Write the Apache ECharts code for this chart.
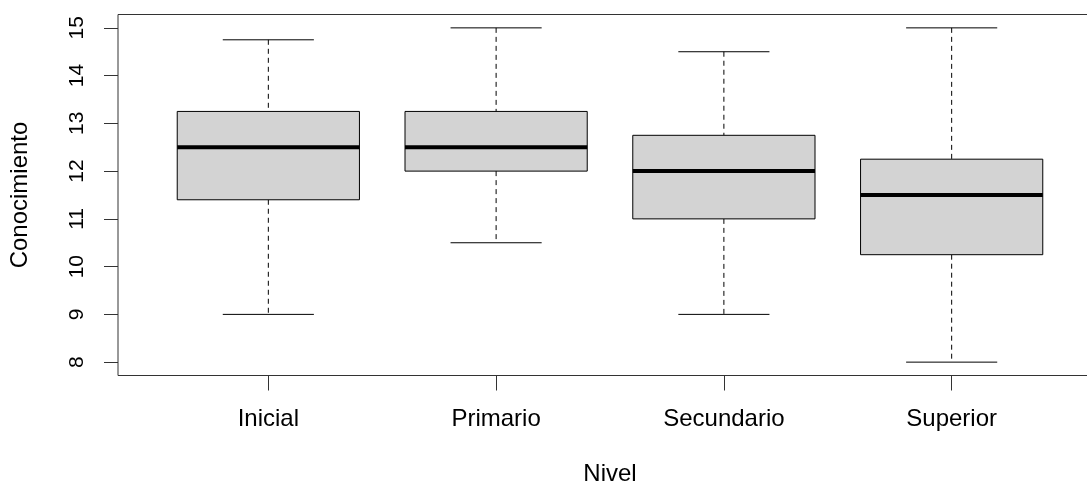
<!DOCTYPE html>
<html><head><meta charset="utf-8">
<script src="https://cdn.jsdelivr.net/npm/echarts@6/dist/echarts.min.js"></script>
<style>html,body{margin:0;padding:0;background:#fff}#c{width:1087px;height:486px}</style>
</head><body><div id="c"></div>
<script>
const categories = ['Inicial', 'Primario', 'Secundario', 'Superior'];
const whiskerLow = [9, 10.5, 9, 8];
const q1 = [11.4, 12, 11, 10.25];
const median = [12.5, 12.5, 12, 11.5];
const q3 = [13.25, 13.25, 12.75, 12.25];
const whiskerHigh = [14.75, 15, 14.5, 15];
const yTicks = [8, 9, 10, 11, 12, 13, 14, 15];
const xTitle = 'Nivel';
const yTitle = 'Conocimiento';

const boxData = categories.map((c, i) => [i + 1, whiskerLow[i], q1[i], median[i], q3[i], whiskerHigh[i]]);
const FONT = '"Liberation Sans", Arial, sans-serif';
const chart = echarts.init(document.getElementById('c'), null, {renderer: 'canvas'});

function renderItem(params, api) {
  const x = api.value(0);
  const pLow = api.coord([x, api.value(1)]);
  const pQ1 = api.coord([x, api.value(2)]);
  const pMed = api.coord([x, api.value(3)]);
  const pQ3 = api.coord([x, api.value(4)]);
  const pHigh = api.coord([x, api.value(5)]);
  const half = api.size([0.4, 0])[0];
  const capHalf = half / 2;
  const cx = pMed[0];
  const line = {stroke: '#000', lineWidth: 1};
  const dashed = {stroke: '#000', lineWidth: 1, lineDash: [5, 4]};
  return {
    type: 'group',
    children: [
      {type: 'line', shape: {x1: cx, y1: pHigh[1], x2: cx, y2: pQ3[1]}, style: dashed},
      {type: 'line', shape: {x1: cx, y1: pQ1[1], x2: cx, y2: pLow[1]}, style: dashed},
      {type: 'line', shape: {x1: cx - capHalf, y1: pHigh[1], x2: cx + capHalf, y2: pHigh[1]}, style: line},
      {type: 'line', shape: {x1: cx - capHalf, y1: pLow[1], x2: cx + capHalf, y2: pLow[1]}, style: line},
      {type: 'rect', shape: {x: cx - half, y: pQ3[1], width: 2 * half, height: pQ1[1] - pQ3[1]},
        style: {fill: '#D3D3D3', stroke: '#000', lineWidth: 1}},
      {type: 'line', shape: {x1: cx - half, y1: pMed[1], x2: cx + half, y2: pMed[1]},
        style: {stroke: '#000', lineWidth: 4}}
    ]
  };
}

chart.setOption({
  animation: false,
  backgroundColor: '#fff',
  textStyle: {fontFamily: FONT, color: '#000'},
  grid: {left: 118, top: 14.5, width: 984, height: 361, show: true, outerBoundsMode: 'none', containLabel: false,
    borderColor: '#333', borderWidth: 1, backgroundColor: 'transparent'},
  xAxis: {
    type: 'value', min: 0.34, max: 4.66,
    splitLine: {show: false},
    axisLine: {show: false},
    axisTick: {show: true, length: 15, lineStyle: {color: '#333'}, customValues: [1, 2, 3, 4]},
    axisLabel: {customValues: [1, 2, 3, 4], fontSize: 24, color: '#000', margin: 32, fontFamily: FONT,
      formatter: v => categories[Math.round(v) - 1] || ''},
    name: xTitle, nameLocation: 'middle', nameGap: 87,
    nameTextStyle: {fontSize: 24, color: '#000', fontFamily: FONT}
  },
  yAxis: {
    type: 'value', min: 7.72, max: 15.28,
    splitLine: {show: false},
    axisLine: {show: false},
    axisTick: {show: true, length: 14, lineStyle: {color: '#333'}, customValues: yTicks},
    axisLabel: {customValues: yTicks, fontSize: 21, color: '#000', rotate: 90, margin: 30, fontFamily: FONT,
      formatter: v => String(Math.round(v))},
    name: yTitle, nameLocation: 'middle', nameGap: 86, nameRotate: 90,
    nameTextStyle: {fontSize: 24, color: '#000', fontFamily: FONT}
  },
  series: [{
    type: 'custom',
    renderItem: renderItem,
    encode: {x: 0, y: [1, 2, 3, 4, 5]},
    data: boxData,
    clip: false
  }]
});
</script>
</body></html>
